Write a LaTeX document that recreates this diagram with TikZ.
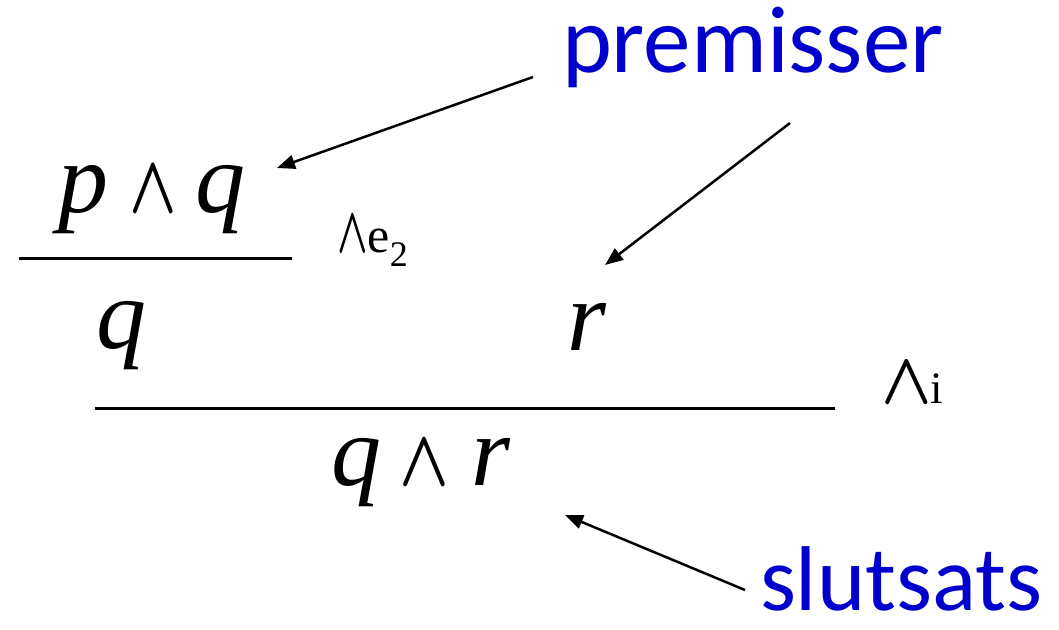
\documentclass[tikz,border=0pt]{standalone}
\usepackage{fontspec}
\usepackage{graphicx}
\setmainfont{Liberation Serif}
\newfontfamily\labelfont{Carlito}
\usetikzlibrary{arrows.meta}
\definecolor{labelblue}{RGB}{0,0,204}
\newcommand{\myand}[2]{\scalebox{#1}[#2]{\fontsize{10}{12}\selectfont\boldmath$\wedge$}}
\newcommand{\mi}[1]{\textit{#1}}
\tikzset{
  txt/.style={inner sep=0pt, outer sep=0pt, anchor=base west},
  formula/.style={txt, font=\fontsize{100}{110}\selectfont},
  rulename/.style={txt},
  blue label/.style={txt, text=labelblue, font=\labelfont\fontsize{95}{110}\selectfont},
  small blue label/.style={blue label, font=\labelfont\fontsize{92}{104}\selectfont},
  infline/.style={line width=3pt},
  pointer/.style={line width=2.5pt, -{Triangle[length=18pt,width=14pt]}}
}
\begin{document}
\begin{tikzpicture}[x=1pt,y=-1pt]
\useasboundingbox (0,0) rectangle (1059,629);
% formulas
\node[formula] (pq) at (58,212) {\mi{p}\hspace{21pt}\myand{6.2}{8.2}\hspace{19pt}\mi{q}};
\node[formula] (q) at (96,348) {\mi{q}};
\node[formula] (r) at (567,350) {\mi{r}};
\node[formula] (qr) at (331,485) {\mi{q}\hspace{18.3pt}\myand{6.5}{8}\hspace{22pt}\mi{r}};
% inference lines
\draw[infline] (19,258) -- (292,258);
\draw[infline] (95,408) -- (835,408);
% rule names
\node[rulename] (ae2) at (337,252) {\myand{4}{6.5}\hspace{0pt}\fontsize{50}{54}\selectfont e\raisebox{-14pt}{\fontsize{36}{40}\selectfont 2}};
\node[rulename] (ai) at (881,403) {\myand{6.6}{7.3}\hspace{-1pt}\fontsize{45}{50}\selectfont i};
% labels
\node[blue label] (prem) at (562,72) {premisser};
\node[small blue label] (slut) at (760,610) {slutsats};
% arrow end points
\coordinate (p1s) at (533,77);
\coordinate (p1e) at (277,168);
\coordinate (p2s) at (790,123);
\coordinate (p2e) at (605,265);
\coordinate (s1s) at (745,590);
\coordinate (s1e) at (565,515);
\draw[pointer] (p1s) -- (p1e);
\draw[pointer] (p2s) -- (p2e);
\draw[pointer] (s1s) -- (s1e);
\end{tikzpicture}
\end{document}
